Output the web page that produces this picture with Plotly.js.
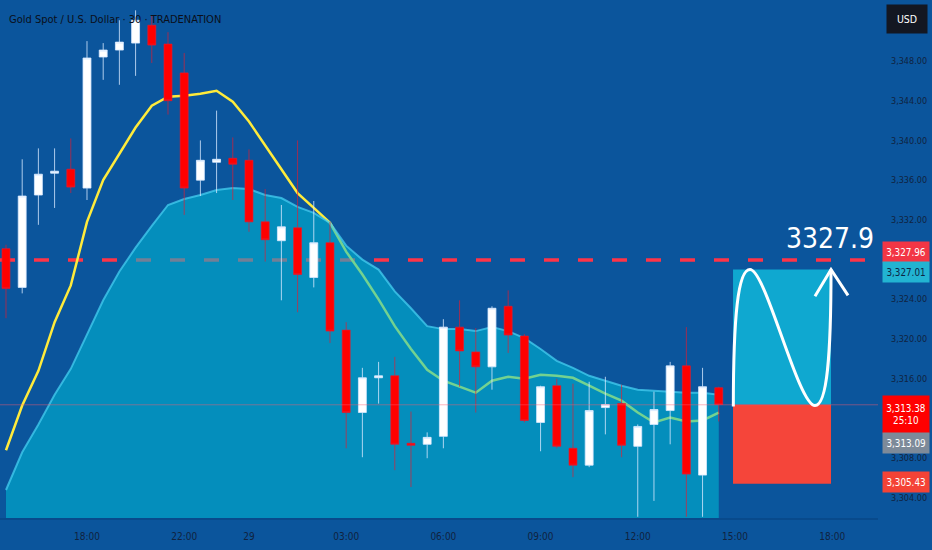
<!DOCTYPE html>
<html><head><meta charset="utf-8">
<script src="https://cdn.plot.ly/plotly-3.0.1.min.js"></script>
<style>html,body{margin:0;padding:0;background:#0b559c;}#chart{width:932px;height:550px;}</style>
</head><body><div id="chart"></div>
<script>
// ---- data ----
const candleIndex = [0,1,2,3,4,5,6,7,8,9,10,11,12,13,14,15,16,17,18,19,20,21,22,23,24,25,26,27,28,29,30,31,32,33,34,35,36,37,38,39,40,41,42,43,44];
const openP  = [3329.1,3325.2,3334.5,3336.7,3337.1,3335.2,3348.4,3349.1,3349.8,3351.6,3349.7,3346.8,3336.0,3337.8,3338.2,3338.0,3331.8,3329.9,3331.2,3326.2,3329.7,3320.9,3312.6,3316.1,3316.3,3309.5,3309.4,3310.2,3321.2,3318.7,3317.2,3323.3,3320.3,3311.6,3315.3,3309.0,3307.3,3313.1,3313.5,3309.2,3311.4,3312.8,3317.3,3306.3,3315.1];
const highP  = [3329.5,3338.1,3339.2,3339.2,3340.2,3350.0,3349.8,3352.1,3353.1,3352.6,3350.9,3348.8,3340.0,3343.0,3340.3,3339.1,3335.1,3333.5,3340.0,3333.9,3331.8,3321.7,3317.1,3317.7,3318.2,3312.7,3310.6,3322.0,3323.9,3321.1,3323.3,3324.9,3320.5,3315.3,3316.0,3315.5,3315.7,3316.2,3315.4,3311.4,3314.7,3317.7,3321.2,3317.1,3315.2];
const lowP   = [3322.1,3324.6,3331.5,3333.2,3334.7,3334.0,3346.1,3345.6,3346.5,3347.8,3342.6,3332.5,3334.4,3334.7,3334.0,3330.8,3327.8,3323.9,3322.7,3325.2,3319.6,3309.0,3308.1,3313.5,3306.8,3305.1,3308.0,3309.0,3315.2,3312.6,3314.9,3318.6,3311.6,3308.7,3309.0,3306.1,3307.1,3310.4,3308.1,3302.1,3303.7,3309.4,3302.1,3302.1,3311.7];
const closeP = [3325.1,3334.4,3336.6,3336.9,3335.3,3348.3,3349.1,3349.9,3352.1,3349.6,3344.0,3335.2,3338.0,3338.1,3337.6,3331.8,3330.0,3331.3,3326.5,3329.7,3320.8,3312.6,3316.1,3316.3,3309.4,3309.3,3310.1,3321.2,3318.8,3317.2,3323.1,3320.4,3311.8,3315.2,3309.2,3307.3,3312.8,3313.4,3309.3,3311.2,3312.9,3317.3,3306.4,3315.2,3313.4];
const fastMA = [3308.8,3313.3,3316.8,3321.7,3325.4,3331.8,3336.0,3338.7,3341.3,3343.5,3344.4,3344.5,3344.7,3345.0,3343.9,3341.9,3339.5,3337.2,3334.7,3333.2,3331.7,3328.8,3326.5,3324.0,3321.3,3319.0,3316.9,3315.8,3315.2,3314.6,3315.8,3316.2,3316.0,3316.4,3316.3,3316.1,3315.3,3314.5,3313.8,3312.6,3311.6,3312.1,3311.7,3311.8,3312.6];
const slowMA = [3304.8,3308.6,3311.4,3314.4,3317.0,3320.5,3323.9,3326.8,3329.2,3331.4,3333.5,3334.1,3334.5,3335.0,3335.2,3335.1,3334.5,3334.2,3333.3,3332.7,3331.7,3329.4,3328.0,3327.0,3324.8,3323.1,3321.3,3321.0,3321.0,3320.8,3321.2,3320.8,3320.1,3319.0,3317.8,3317.1,3316.3,3315.8,3315.3,3314.9,3314.8,3314.7,3314.6,3314.6,3314.4];
const tickIndex = [5,11,15,21,27,33,39,45,51];
const tickText  = ['18:00','22:00','29','03:00','06:00','09:00','12:00','15:00','18:00'];
const priceTicks = [3304,3308,3316,3320,3324,3332,3336,3340,3344,3348];
const targetLevel = 3327.96;
const takeProfit  = 3327.01;
const lastPrice   = 3313.38;
const bidPrice    = 3313.09;
const stopLoss    = 3305.43;
const countdown   = '25:10';
const targetText  = '3327.9';
const titleText   = 'Gold Spot / U.S. Dollar · 30 · TRADENATION';

// ---- styling ----
const BG = '#0b559c';
const NARROW = '"Liberation Sans Narrow","DejaVu Sans Condensed","Roboto Condensed",sans-serif';
const xr = [-0.37, 53.83];
const yr = [3301.98, 3354.14];
const fmt = v => v.toLocaleString('en-US',{minimumFractionDigits:2,maximumFractionDigits:2});

const traces = [
  {type:'scatter', mode:'lines', x:candleIndex, y:fastMA, line:{color:'#ffeb3b', width:2.5}, hoverinfo:'skip', xaxis:'x', yaxis:'y'},
  {type:'scatter', mode:'lines', x:candleIndex, y:slowMA, fill:'tozeroy', fillcolor:'rgba(0,190,215,0.55)',
   line:{color:'rgba(70,205,240,0.75)', width:2}, hoverinfo:'skip', xaxis:'x', yaxis:'y'},
  {type:'candlestick', x:candleIndex, open:openP, high:highP, low:lowP, close:closeP, xaxis:'x2', yaxis:'y2',
   increasing:{fillcolor:'#ffffff', line:{color:'rgba(215,232,255,0.8)', width:1}},
   decreasing:{fillcolor:'#ff0000', line:{color:'rgba(235,25,45,0.65)', width:1}},
   whiskerwidth:0, hoverinfo:'skip'}
];

const wavePath = 'M 44.9,3313.2 C 44.9,3322.5 45.2,3327.0 45.93,3327.0 C 46.9,3327.0 48.9,3313.3 49.94,3313.3 C 50.7,3313.3 50.93,3318.5 50.93,3327.0';
const arrowPath = 'M 49.94,3324.3 L 50.93,3327.0 L 51.98,3324.4';

const shapes = [
  {type:'line', xref:'paper', x0:0, x1:1, yref:'y', y0:targetLevel, y1:targetLevel, layer:'below',
   line:{color:'#ff3447', width:3.5, dash:'15px,19px'}},
  {type:'rect', xref:'x', x0:44.88, x1:50.93, yref:'y', y0:lastPrice, y1:takeProfit, layer:'above',
   fillcolor:'#0fa8d0', line:{width:0}},
  {type:'rect', xref:'x', x0:44.88, x1:50.93, yref:'y', y0:stopLoss, y1:lastPrice, layer:'above',
   fillcolor:'#f5453a', line:{width:0}},
  {type:'line', xref:'paper', x0:0, x1:1, yref:'y', y0:lastPrice, y1:lastPrice, layer:'above',
   line:{color:'rgba(255,90,110,0.45)', width:1}},
  {type:'path', xref:'x', yref:'y', path:wavePath, layer:'above', line:{color:'#ffffff', width:3}},
  {type:'path', xref:'x', yref:'y', path:arrowPath, layer:'above', line:{color:'#ffffff', width:3}}
];

const lx = 905.5/878;
function priceLabel(text, y, yshift, bg, fg, h){
  return {xref:'paper', x:lx, xanchor:'center', yref:'y', y:y, yanchor:'middle', yshift:yshift,
    text:text, showarrow:false, bgcolor:bg, width:42, height:h||16, borderpad:2,
    font:{family:NARROW, size:9.8, color:fg}, align:'center'};
}
const annotations = [
  {xref:'paper', x:0, xshift:7, xanchor:'left', yref:'paper', y:1, yshift:-19, yanchor:'middle',
   text:titleText, showarrow:false, font:{family:NARROW, size:11, color:'#0a0f1a'}},
  {xref:'paper', x:907/878, xanchor:'center', yref:'paper', y:1, yshift:-19, yanchor:'middle',
   text:'USD', showarrow:false, bgcolor:'#131722', width:36, height:24, borderpad:2,
   font:{family:NARROW, size:10.5, color:'#ffffff'}},
  {xref:'x', x:50.86, xanchor:'center', yref:'y', y:3330.1, yanchor:'middle', text:targetText, showarrow:false,
   font:{family:NARROW, size:28, color:'#ffffff'}},
  priceLabel(fmt(targetLevel), targetLevel, 7.5, '#f23645', '#ffffff'),
  priceLabel(fmt(takeProfit), takeProfit, -3, '#22b4d2', '#0d2545'),
  priceLabel(fmt(lastPrice)+'<br>'+countdown, lastPrice, -9.5, '#ff0000', '#ffffff', 33),
  priceLabel(fmt(bidPrice), bidPrice, -35, '#7d8a99', '#ffffff'),
  priceLabel(fmt(stopLoss), stopLoss, 2, '#f44336', '#ffffff')
];

const layout = {
  width:932, height:550, margin:{l:0, r:54, t:0, b:32},
  paper_bgcolor:BG, plot_bgcolor:BG, showlegend:false,
  xaxis:{range:xr, fixedrange:true, showgrid:false, zeroline:false, tickmode:'array', tickvals:tickIndex, ticktext:tickText,
    ticks:'', ticklabelstandoff:8, tickfont:{family:NARROW, size:10, color:'#10233f'},
    showline:true, linecolor:'#084a8c', linewidth:2, rangeslider:{visible:false}},
  yaxis:{range:yr, fixedrange:true, side:'right', showgrid:false, zeroline:false, tickmode:'array', tickvals:priceTicks,
    ticktext:priceTicks.map(fmt), ticks:'', ticklabelstandoff:12, tickfont:{family:NARROW, size:9, color:'#10233f'}},
  xaxis2:{range:xr, overlaying:'x', visible:false, fixedrange:true, rangeslider:{visible:false}},
  yaxis2:{range:yr, overlaying:'y', visible:false, fixedrange:true},
  shapes:shapes, annotations:annotations
};
Plotly.newPlot('chart', traces, layout, {staticPlot:true, displayModeBar:false});
</script></body></html>
